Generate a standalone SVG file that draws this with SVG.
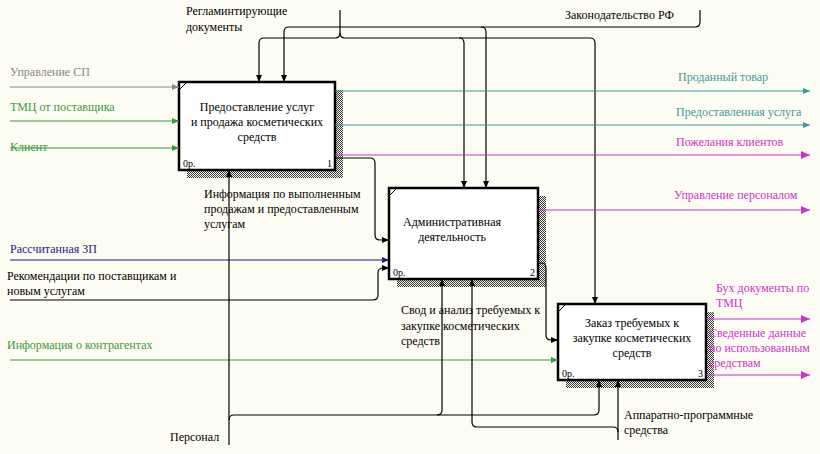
<svg xmlns="http://www.w3.org/2000/svg" width="820" height="454" viewBox="0 0 820 454">
<defs>
<pattern id="h" width="2" height="2" patternUnits="userSpaceOnUse"><rect width="1" height="1" fill="#333"/><rect x="1" y="1" width="1" height="1" fill="#333"/></pattern>
<marker id="ak" markerWidth="8" markerHeight="8" refX="7" refY="4" orient="auto" markerUnits="userSpaceOnUse"><path d="M0,1 L7,4 L0,7 Z" fill="#000"/></marker>
<marker id="ag" markerWidth="8" markerHeight="8" refX="7" refY="4" orient="auto" markerUnits="userSpaceOnUse"><path d="M0,1 L7,4 L0,7 Z" fill="#3a9a3a"/></marker>
<marker id="ay" markerWidth="8" markerHeight="8" refX="7" refY="4" orient="auto" markerUnits="userSpaceOnUse"><path d="M0,1 L7,4 L0,7 Z" fill="#888"/></marker>
<marker id="ab" markerWidth="8" markerHeight="8" refX="7" refY="4" orient="auto" markerUnits="userSpaceOnUse"><path d="M0,1 L7,4 L0,7 Z" fill="#1a1a8a"/></marker>
<marker id="at" markerWidth="8" markerHeight="8" refX="7" refY="4" orient="auto" markerUnits="userSpaceOnUse"><path d="M0,1 L7,4 L0,7 Z" fill="#3a9a9a"/></marker>
<marker id="am" markerWidth="10" markerHeight="10" refX="9" refY="5" orient="auto" markerUnits="userSpaceOnUse"><path d="M0,1 L9,5 L0,9 Z" fill="#cc33cc"/></marker>
</defs>
<style>
text{font-family:"Liberation Serif","DejaVu Serif",serif;font-size:12px;fill:#000}
.box{fill:#fff;stroke:#000;stroke-width:2.5}
.c path{fill:none;stroke-width:1.2}
.k{stroke:#000}.g{stroke:#3a9a3a}.y{stroke:#888}.b{stroke:#1a1a8a}.t{stroke:#3a9a9a}.m{stroke:#cc33cc}
.tg{fill:#3a9a3a}.ty{fill:#888}.tb{fill:#1a1a8a}.tt{fill:#3a9a9a}.tm{fill:#cc33cc}
.sm{font-size:10px}
</style>
<rect width="820" height="454" fill="#fdfcf2"/>
<g id="node1">
<rect x="187" y="90" width="156" height="88" fill="url(#h)"/>
<rect class="box" x="179" y="82" width="156" height="88"/>
<path d="M179,90 L187,82" stroke="#000"/>
<text x="257" y="111" text-anchor="middle">Предоставление услуг</text>
<text x="257" y="126" text-anchor="middle">и продажа косметических</text>
<text x="257" y="141" text-anchor="middle">средств</text>
<text class="sm" x="183" y="167">0р.</text><text class="sm" x="332" y="167" text-anchor="end">1</text>
</g>
<g id="node2">
<rect x="397" y="196" width="149" height="91" fill="url(#h)"/>
<rect class="box" x="389" y="188" width="149" height="91"/>
<path d="M389,196 L397,188" stroke="#000"/>
<text x="452" y="226" text-anchor="middle">Административная</text>
<text x="452" y="241" text-anchor="middle">деятельность</text>
<text class="sm" x="393" y="276">0р.</text><text class="sm" x="535" y="276" text-anchor="end">2</text>
</g>
<g id="node3">
<rect x="566" y="312" width="148" height="76" fill="url(#h)"/>
<rect class="box" x="558" y="304" width="148" height="76"/>
<path d="M558,312 L566,304" stroke="#000"/>
<text x="632" y="327" text-anchor="middle">Заказ требуемых к</text>
<text x="632" y="342" text-anchor="middle">закупке косметических</text>
<text x="632" y="357" text-anchor="middle">средств</text>
<text class="sm" x="562" y="377">0р.</text><text class="sm" x="703" y="377" text-anchor="end">3</text>
</g>
<g id="connectors" class="c">
<!-- controls -->
<path class="k" d="M340,10 V33 Q340,38 335,38 H264 Q259,38 259,43 V82" marker-end="url(#ak)"/>
<path class="k" d="M340,33 Q340,38 345,38 H590 Q595,38 595,43 V304" marker-end="url(#ak)"/>
<path class="k" d="M459,38 Q464,38 464,43 V188" marker-end="url(#ak)"/>
<path class="k" d="M700,10 V22 Q700,27 695,27 H289 Q284,27 284,32 V82" marker-end="url(#ak)"/>
<path class="k" d="M481,27 Q486,27 486,32 V188" marker-end="url(#ak)"/>
<!-- inputs -->
<path class="y" d="M10,87 H179" marker-end="url(#ay)"/>
<path class="g" d="M10,121 H179" marker-end="url(#ag)"/>
<path class="g" d="M10,148 H179" marker-end="url(#ag)"/>
<path class="b" d="M10,260 H389" marker-end="url(#ab)"/>
<path class="k" d="M10,300 H373 Q378,300 378,295 V273 Q378,268 383,268 H389" marker-end="url(#ak)"/>
<path class="g" d="M10,360 H558" marker-end="url(#ag)"/>
<!-- outputs -->
<path class="t" d="M335,91 H810" marker-end="url(#at)"/>
<path class="t" d="M335,125 H810" marker-end="url(#at)"/>
<path class="m" d="M335,155 H810" marker-end="url(#am)"/>
<path class="k" d="M335,158 H370 Q375,158 375,163 V235 Q375,240 380,240 H389" marker-end="url(#ak)"/>
<path class="m" d="M538,210 H810" marker-end="url(#am)"/>
<path class="k" d="M538,263 H541 Q546,263 546,268 V335 Q546,340 551,340 H558" marker-end="url(#ak)"/>
<path class="m" d="M706,319 H810" marker-end="url(#am)"/>
<path class="m" d="M706,375 H810" marker-end="url(#am)"/>
<!-- mechanisms -->
<path class="k" d="M229,445 V170" marker-end="url(#ak)"/>
<path class="k" d="M229,420 Q229,415 234,415 H594 Q599,415 599,410 V380" marker-end="url(#ak)"/>
<path class="k" d="M437,415 Q442,415 442,410 V279" marker-end="url(#ak)"/>
<path class="k" d="M618,440 V380" marker-end="url(#ak)"/>
<path class="k" d="M618,432 Q618,427 613,427 H477 Q472,427 472,422 V279" marker-end="url(#ak)"/>
</g>
<g id="labels">
<text x="186" y="15">Регламинтирующие</text><text x="186" y="31">документы</text>
<text x="565" y="19">Законодательство РФ</text>
<text class="ty" x="10" y="76">Управление СП</text>
<text class="tg" x="10" y="111">ТМЦ от поставщика</text>
<text class="tg" x="10" y="151">Клиент</text>
<text class="tt" x="678" y="81">Проданный товар</text>
<text class="tt" x="676" y="116">Предоставленная услуга</text>
<text class="tm" x="676" y="146">Пожелания клиентов</text>
<text class="tm" x="674" y="199">Управление персоналом</text>
<text x="204" y="198">Информация по выполненным</text><text x="204" y="213">продажам и предоставленным</text><text x="204" y="228">услугам</text>
<text class="tb" x="10" y="253">Рассчитанная ЗП</text>
<text x="7" y="280">Рекомендации по поставщикам и</text><text x="7" y="295">новым услугам</text>
<text x="401" y="314">Свод и анализ требуемых к</text><text x="401" y="330">закупке косметических</text><text x="401" y="345">средств</text>
<text class="tg" x="7" y="349">Информация о контрагентах</text>
<text class="tm" x="716" y="292">Бух документы по</text><text class="tm" x="716" y="307">ТМЦ</text>
<text class="tm" x="709" y="337">Сведенные данные</text><text class="tm" x="709" y="352">по использованным</text><text class="tm" x="709" y="367">средствам</text>
<text x="624" y="419">Аппаратно-программные</text><text x="624" y="434">средства</text>
<text x="170" y="441">Персонал</text>
</g>
</svg>
